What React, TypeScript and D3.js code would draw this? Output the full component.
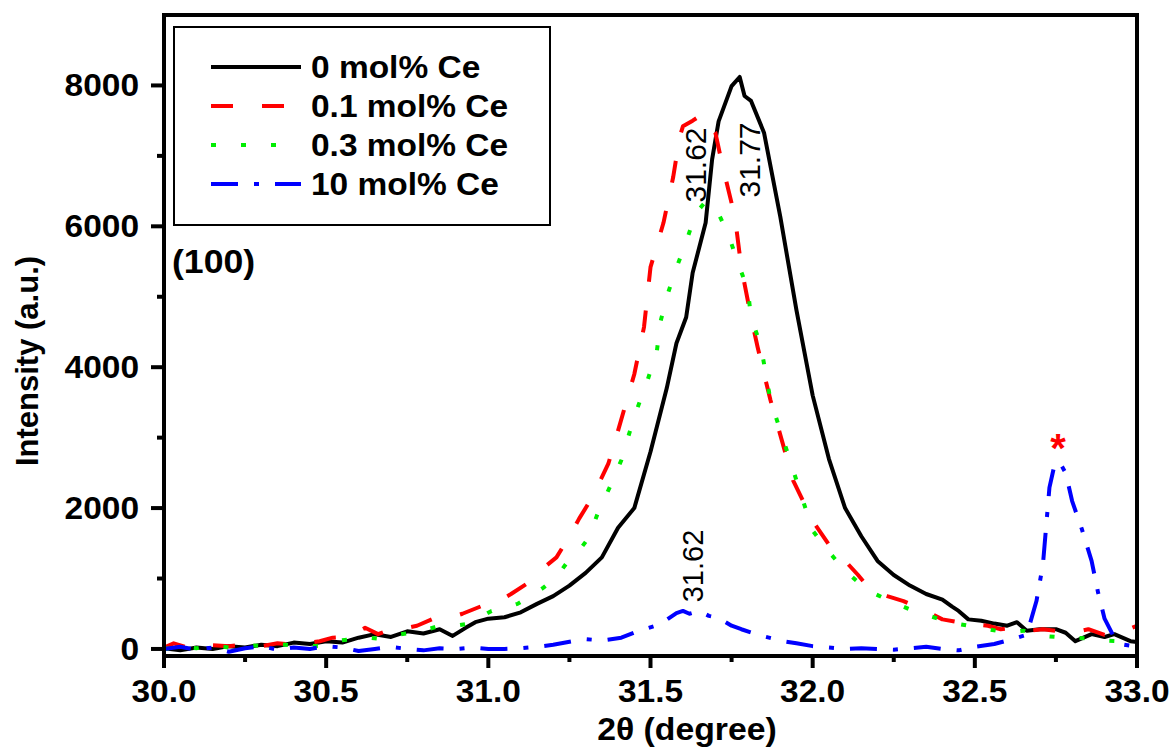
import React from 'react';
import * as d3 from 'd3';

const ce0: [number, number][] = [
  [30.0, 10], [30.05, -20], [30.1, 20], [30.15, 0], [30.2, 40], [30.25, 20], [30.3, 60], [30.35, 40],
  [30.4, 90], [30.45, 70], [30.5, 110], [30.55, 90], [30.6, 160], [30.65, 210], [30.7, 170], [30.75, 250],
  [30.8, 220], [30.85, 280], [30.89, 185], [30.93, 300], [30.96, 380], [31.0, 430], [31.05, 450], [31.1, 520],
  [31.15, 640], [31.2, 750], [31.25, 900], [31.3, 1080], [31.35, 1300], [31.4, 1720], [31.45, 2000],
  [31.5, 2800], [31.55, 3700], [31.58, 4340], [31.61, 4710], [31.63, 5340], [31.67, 6050], [31.69, 6950],
  [31.71, 7490], [31.75, 7990], [31.775, 8120], [31.79, 7850], [31.81, 7780], [31.85, 7330], [31.9, 6140],
  [31.95, 4810], [32.0, 3600], [32.05, 2700], [32.1, 2000], [32.15, 1600], [32.2, 1250], [32.25, 1050],
  [32.3, 900], [32.35, 780], [32.4, 700], [32.43, 600], [32.45, 540], [32.48, 420], [32.52, 400],
  [32.56, 360], [32.6, 330], [32.63, 380], [32.66, 260], [32.7, 280], [32.75, 280], [32.78, 230],
  [32.81, 110], [32.86, 210], [32.9, 170], [32.93, 210], [32.98, 110], [33.0, 100],
];

const ce01: [number, number][] = [
  [30.0, 20], [30.03, 80], [30.08, 10], [30.13, 60], [30.2, 40], [30.25, 60], [30.3, 40], [30.35, 80],
  [30.4, 60], [30.45, 90], [30.48, 110], [30.52, 160], [30.56, 170], [30.6, 250], [30.62, 300], [30.66, 210],
  [30.7, 280], [30.74, 290], [30.78, 330], [30.83, 430], [30.88, 440], [30.92, 500], [30.98, 610],
  [31.02, 650], [31.07, 780], [31.12, 930], [31.17, 1150], [31.21, 1300], [31.25, 1600], [31.28, 1850],
  [31.32, 2150], [31.37, 2630], [31.4, 3100], [31.45, 3900], [31.48, 4570], [31.5, 5420], [31.54, 6050],
  [31.57, 6700], [31.59, 7270], [31.6, 7420], [31.63, 7500], [31.66, 7590], [31.7, 7330], [31.72, 6900],
  [31.76, 6140], [31.78, 5420], [31.81, 4710], [31.83, 4290], [31.87, 3530], [31.94, 2390], [32.0, 1820],
  [32.05, 1480], [32.1, 1250], [32.14, 1050], [32.18, 830], [32.23, 750], [32.28, 680], [32.34, 560],
  [32.4, 420], [32.45, 380], [32.5, 350], [32.54, 330], [32.58, 280], [32.63, 310], [32.67, 260],
  [32.71, 280], [32.76, 250], [32.8, 230], [32.85, 280], [32.9, 200], [32.95, 230], [33.0, 330],
];

const ce03: [number, number][] = [
  [30.0, 0], [30.05, 30], [30.1, 10], [30.15, 50], [30.2, 20], [30.25, 60], [30.3, 40], [30.35, 70],
  [30.4, 50], [30.48, 40], [30.52, 110], [30.58, 140], [30.63, 160], [30.67, 140], [30.72, 200],
  [30.76, 230], [30.8, 260], [30.85, 330], [30.9, 330], [30.94, 360], [31.01, 540], [31.05, 580],
  [31.09, 640], [31.13, 750], [31.17, 870], [31.21, 1020], [31.24, 1210], [31.28, 1400], [31.31, 1580],
  [31.34, 1960], [31.38, 2350], [31.41, 2680], [31.45, 3300], [31.49, 3800], [31.52, 4240], [31.53, 4630],
  [31.55, 5000], [31.58, 5410], [31.61, 5780], [31.64, 6190], [31.67, 6350], [31.7, 6280], [31.74, 5880],
  [31.77, 5480], [31.8, 5100], [31.81, 4710], [31.84, 4310], [31.87, 3530], [31.93, 2680], [32.0, 1680],
  [32.05, 1380], [32.1, 1110], [32.17, 830], [32.23, 700], [32.3, 560], [32.36, 470], [32.42, 380],
  [32.48, 330], [32.54, 280], [32.6, 230], [32.65, 260], [32.7, 190], [32.75, 170], [32.8, 160],
  [32.85, 150], [32.9, 120], [32.95, 110], [33.0, 100],
];

const ce10: [number, number][] = [
  [30.0, 0], [30.05, 30], [30.1, -10], [30.15, 20], [30.2, -40], [30.25, 10], [30.3, 40], [30.35, -10],
  [30.4, 20], [30.45, 0], [30.5, 40], [30.55, 20], [30.6, -30], [30.65, 0], [30.7, 30], [30.75, 0],
  [30.8, -20], [30.85, 10], [30.9, 0], [30.95, 20], [31.0, 0], [31.05, 0], [31.1, 10], [31.15, 30],
  [31.2, 60], [31.26, 110], [31.3, 140], [31.35, 120], [31.41, 160], [31.46, 250], [31.53, 350],
  [31.58, 510], [31.6, 540], [31.62, 500], [31.65, 540], [31.68, 470], [31.71, 440], [31.75, 330],
  [31.78, 280], [31.84, 190], [31.91, 110], [31.95, 80], [32.0, 40], [32.05, 20], [32.1, 0], [32.15, 10],
  [32.2, 0], [32.25, -10], [32.3, 10], [32.35, 30], [32.4, 0], [32.45, -20], [32.5, 30], [32.56, 70],
  [32.6, 120], [32.63, 160], [32.66, 200], [32.69, 680], [32.71, 1200], [32.73, 2290], [32.745, 2600],
  [32.76, 2660], [32.78, 2500], [32.8, 2100], [32.83, 1700], [32.86, 1250], [32.88, 800], [32.9, 430],
  [32.93, 160], [32.96, 60], [33.0, 30],
];

const seriesNames = ['0 mol% Ce', '0.1 mol% Ce', '0.3 mol% Ce', '10 mol% Ce'];
const seriesData = [ce0, ce01, ce03, ce10];
const seriesColors = ['#000000', '#ff0000', '#00ee00', '#0000ff'];
const seriesDash = ['none', '22,29', '5,25', '27,16,5,16'];

const xTicks = [30.0, 30.5, 31.0, 31.5, 32.0, 32.5, 33.0];
const xMinor = [30.25, 30.75, 31.25, 31.75, 32.25, 32.75];
const yTicks = [0, 2000, 4000, 6000, 8000];
const yMinor = [1000, 3000, 5000, 7000];

const font = '"Liberation Sans", Arial, sans-serif';

// the original text is a little wider than Arial, so stretch it sideways
function Label(props: { x: number; y: number; anchor?: string; size: number; sx?: number; children: React.ReactNode; fill?: string }) {
  const { x, y, anchor = 'start', size, sx = 1.08, children, fill = '#000' } = props;
  return (
    <text transform={`translate(${x},${y}) scale(${sx},1)`} textAnchor={anchor} fontSize={size}
      fontWeight="bold" fill={fill}>
      {children}
    </text>
  );
}

export default function App() {
  const width = 1175;
  const height = 749;
  const left = 164;
  const right = 1137;
  const top = 15;
  const bottom = 656;

  const x = d3.scaleLinear().domain([30, 33]).range([left, right]);
  const y = d3.scaleLinear().domain([-100, 9000]).range([bottom, top]);

  const line = d3.line<[number, number]>()
    .x(d => x(d[0]))
    .y(d => y(d[1]))
    .curve(d3.curveLinear);

  return (
    <svg width={width} height={height} style={{ position: 'absolute', left: 0, top: 0, background: '#fff' }}
      fontFamily={font}>
      {/* curves */}
      {seriesData.map((d, i) => (
        <path key={i} d={line(d) || ''} fill="none" stroke={seriesColors[i]} strokeWidth={4}
          strokeDasharray={seriesDash[i]} strokeLinejoin="round" />
      ))}

      {/* frame */}
      <rect x={left} y={top} width={right - left} height={bottom - top} fill="none" stroke="#000" strokeWidth={4} />

      {/* x axis */}
      {xTicks.map(t => (
        <g key={t}>
          <line x1={x(t)} x2={x(t)} y1={bottom} y2={bottom + 12} stroke="#000" strokeWidth={4} />
          <Label x={x(t)} y={702} anchor="middle" size={31}>{t.toFixed(1)}</Label>
        </g>
      ))}
      {xMinor.map(t => (
        <line key={t} x1={x(t)} x2={x(t)} y1={bottom} y2={bottom + 6} stroke="#000" strokeWidth={4} />
      ))}
      <Label x={687} y={740} anchor="middle" size={31} sx={1.09}>2θ (degree)</Label>

      {/* y axis */}
      {yTicks.map(t => (
        <g key={t}>
          <line x1={left - 13} x2={left} y1={y(t)} y2={y(t)} stroke="#000" strokeWidth={4} />
          <Label x={139} y={y(t) + 11} anchor="end" size={31}>{t}</Label>
        </g>
      ))}
      {yMinor.map(t => (
        <line key={t} x1={left - 7} x2={left} y1={y(t)} y2={y(t)} stroke="#000" strokeWidth={4} />
      ))}
      <text transform="translate(38,361) rotate(-90)" textAnchor="middle" fontSize={31} fontWeight="bold">
        Intensity (a.u.)
      </text>

      {/* legend */}
      <rect x={174} y={27} width={376} height={198} fill="#fff" stroke="#000" strokeWidth={2} />
      {seriesNames.map((name, i) => {
        const ly = 67 + i * 39;
        return (
          <g key={name}>
            <line x1={211} x2={301} y1={ly} y2={ly} stroke={seriesColors[i]} strokeWidth={4}
              strokeDasharray={seriesDash[i]} />
            <Label x={311} y={ly + 11} size={31}>{name}</Label>
          </g>
        );
      })}

      {/* annotations */}
      <Label x={172} y={273} size={33}>(100)</Label>
      <text transform="translate(706,165) rotate(-90)" textAnchor="middle" fontSize={30}>31.62</text>
      <text transform="translate(760,160) rotate(-90)" textAnchor="middle" fontSize={30}>31.77</text>
      <text transform="translate(703,566) rotate(-90)" textAnchor="middle" fontSize={29}>31.62</text>
      <text x={1058} y={462} textAnchor="middle" fontSize={40} fontWeight="bold" fill="#ff0000">*</text>
    </svg>
  );
}
